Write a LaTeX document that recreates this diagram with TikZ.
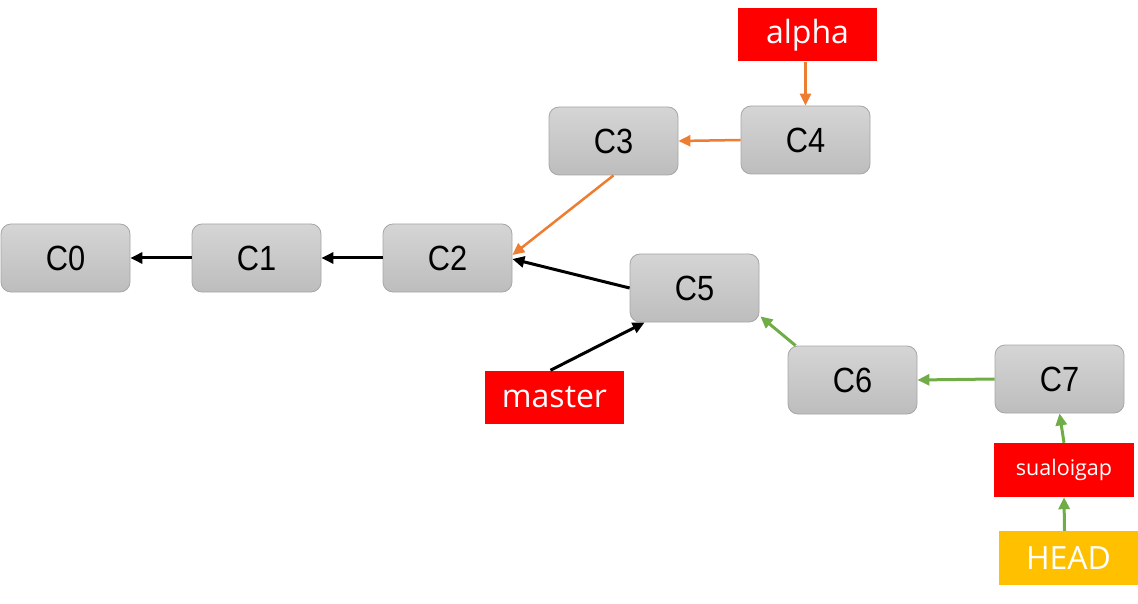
\documentclass[tikz,border=0pt]{standalone}
\usepackage{fontspec}
\usetikzlibrary{arrows.meta,calc}
\newfontfamily\commitfont[FakeStretch=0.88]{Liberation Sans}
\newfontfamily\labelfont{Open Sans}
\definecolor{gborder}{HTML}{A6A6A6}
\definecolor{gtop}{HTML}{D5D5D5}
\definecolor{gbot}{HTML}{BDBDBD}
\definecolor{bred}{HTML}{FF0000}
\definecolor{orng}{HTML}{ED7D31}
\definecolor{grn}{HTML}{70AD47}
\definecolor{hd}{HTML}{FFC000}
\tikzset{
  commit/.style={draw=gborder, line width=0.8pt, rounded corners=10pt, top color=gtop, bottom color=gbot,
    minimum width=129pt, minimum height=68pt, inner sep=0pt, font=\commitfont\fontsize{35}{40}\selectfont, text=black},
  branch/.style={fill=bred, minimum width=139pt, minimum height=53pt, inner sep=0pt, text=white,
    font=\labelfont\fontsize{32}{36}\selectfont},
  conn/.style={line width=3pt, -{Triangle[length=12pt,width=11pt]}},
}
\begin{document}
\begin{tikzpicture}[x=1pt,y=-1pt]
\useasboundingbox (0,0) rectangle (1138,604);
\node[commit] (C0) at (65.5,258) {C0};
\node[commit] (C1) at (256.5,258) {C1};
\node[commit] (C2) at (447.5,258) {C2};
\node[commit] (C3) at (613.5,141) {C3};
\node[commit] (C4) at (805.5,140) {C4};
\node[commit] (C5) at (694.5,288) {C5};
\node[commit] (C6) at (852.5,380) {C6};
\node[commit] (C7) at (1059.5,379) {C7};
\node[branch] (alpha) at (807.5,35) {alpha};
\node[branch] (master) at (554.5,397) {master};
\node[branch, minimum width=140pt, minimum height=54pt, font=\labelfont\fontsize{21.5}{24}\selectfont] (sual) at (1064,470) {sualoigap};
\node[branch, fill=hd, minimum width=139pt, minimum height=54pt] (HEAD) at (1068.5,558) {HEAD};
\draw[conn, black] (C1) -- (C0);
\draw[conn, black] (C2) -- (C1);
\draw[conn, black] (C5.west) -- ([yshift=-1pt]C2.east);
\draw[conn, black] ([xshift=-4pt]master.north) -- ([xshift=15pt]C5.south west);
\draw[conn, orng, line width=2.5pt] (C4.west) -- (C3.east);
\draw[conn, orng, line width=2.5pt] (C3.south) -- ([yshift=3pt]C2.east);
\draw[conn, orng, line width=2.5pt] ([xshift=-2pt]alpha.south) -- (C4.north);
\draw[conn, grn] ([xshift=8pt]C6.north west) -- ([xshift=1pt,yshift=6pt]C5.south east);
\draw[conn, grn] (C7.west) -- (C6.east);
\draw[conn, grn] (sual.north) -- (C7.south);
\draw[conn, grn] ([xshift=-4pt]HEAD.north) -- (sual.south);
\end{tikzpicture}
\end{document}
